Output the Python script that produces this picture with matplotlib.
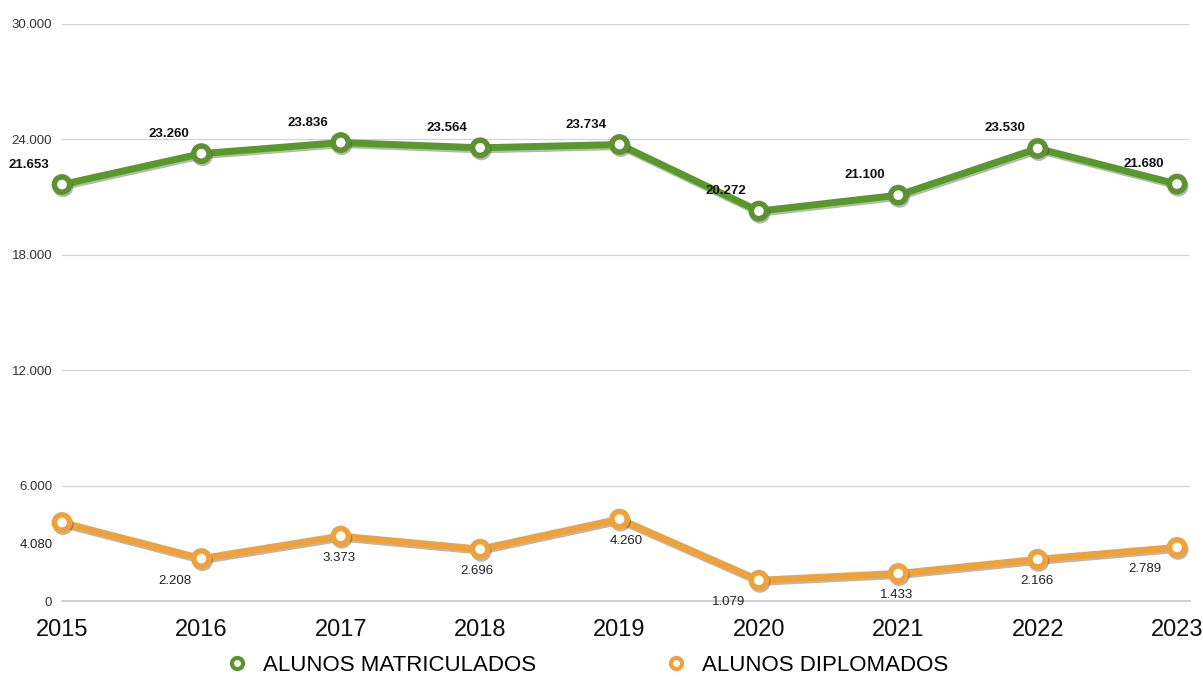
import matplotlib.pyplot as plt
import matplotlib.patheffects as pe
from matplotlib.ticker import FuncFormatter

plt.rcParams['font.family'] = ['Liberation Sans', 'DejaVu Sans']

anos = [2015, 2016, 2017, 2018, 2019, 2020, 2021, 2022, 2023]
matriculados = [21653, 23260, 23836, 23564, 23734, 20272, 21100, 23530, 21680]
diplomados = [4080, 2208, 3373, 2696, 4260, 1079, 1433, 2166, 2789]
rotulos = ['ALUNOS MATRICULADOS', 'ALUNOS DIPLOMADOS']

verde = '#579a2a'
verde_borda = '#5e9230'
laranja = '#f0a23a'

def fmt(v):
    return f'{v:,.0f}'.replace(',', '.')

fig = plt.figure(figsize=(12.03, 6.80), dpi=100)
ax = fig.add_axes([62 / 1203, 79 / 680, 1128 / 1203, 577 / 680])

sombra = [pe.SimpleLineShadow(offset=(0.8, -1.5), shadow_color='#333333', alpha=0.35), pe.Normal()]
for ys, cor, borda, nome in [(matriculados, verde, verde_borda, rotulos[0]),
                             (diplomados, laranja, laranja, rotulos[1])]:
    ax.plot(anos, ys, color=cor, lw=5, marker='o', ms=11, mew=4,
            mfc='white', mec=borda, label=nome, path_effects=sombra, zorder=3, clip_on=False)

for x, y in zip(anos, matriculados):
    ax.annotate(fmt(y), (x, y), xytext=(-33, 20), textcoords='offset pixels',
                ha='center', va='center', fontsize=9.5, fontweight='bold', color='#111111')

# deslocamento horizontal dos rótulos laranja
dx = [-26, -27, -2, -3, 7, -30, -2, -1, -32]
for x, y, d in zip(anos, diplomados, dx):
    ax.annotate(fmt(y), (x, y), xytext=(d, -22), textcoords='offset pixels',
                ha='center', va='center', fontsize=9.5, color='#222222')

ax.set_xlim(2015, 2023.093)
ax.set_ylim(0, 30000)
ax.set_yticks(range(0, 30001, 6000))
ax.yaxis.set_major_formatter(FuncFormatter(lambda v, p: fmt(v)))
ax.set_xticks(anos)
ax.set_xticklabels([str(a) for a in anos])
ax.tick_params(axis='y', length=0, pad=7, labelsize=9.5, labelcolor='#333333')
ax.tick_params(axis='x', length=0, pad=13, labelsize=17, labelcolor='#111111')
ax.grid(axis='y', color='#d4d4d4', lw=0.9)
ax.axhline(0, color='#c8c8c8', lw=1.2, clip_on=False, zorder=1)
ax.set_axisbelow(True)
for s in ax.spines.values():
    s.set_visible(False)

fig.legend(loc='center', bbox_to_anchor=(0.487, 0.022), ncol=2, frameon=False,
           fontsize=16, columnspacing=5.7, handlelength=1.2, handletextpad=0.55)
leg = fig.legends[0]
for h in leg.legend_handles:
    h.set_linestyle('none')
    h.set_path_effects([])
    h.set_markersize(8)
    h.set_markeredgewidth(3)

fig.savefig('out.png', dpi=100)
